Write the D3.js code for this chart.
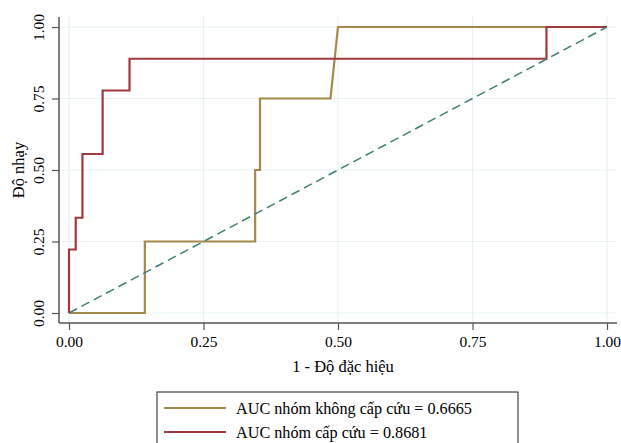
<!DOCTYPE html>
<html>
<head>
    <meta charset="utf-8">
    <title>ROC</title>
    <script src="https://d3js.org/d3.v7.min.js"></script>
    <style>
        body { margin: 0; background: white; }
        text { font-family: "Liberation Serif", "Times New Roman", serif; fill: #000; }
    </style>
</head>
<body>
    <svg width="621" height="443"></svg>
    <script>
        // ROC points (1 - specificity, sensitivity)
        const goldX = [0, 0.141, 0.141, 0.346, 0.346, 0.355, 0.355, 0.486, 0.5, 1]
        const goldY = [0, 0, 0.25, 0.25, 0.5, 0.5, 0.75, 0.75, 1, 1]
        const redX = [0, 0, 0.0125, 0.0125, 0.025, 0.025, 0.0625, 0.0625, 0.1125, 0.1125, 0.8875, 0.8875, 1]
        const redY = [0, 0.222, 0.222, 0.333, 0.333, 0.556, 0.556, 0.778, 0.778, 0.889, 0.889, 1, 1]
        const ticks = [0, 0.25, 0.5, 0.75, 1]
        const legendLabels = ["AUC nhóm không cấp cứu = 0.6665", "AUC nhóm cấp cứu = 0.8681"]
        const colors = ["#a48a4a", "#a2373e"]

        const svg = d3.select("svg")

        const x = d3.scaleLinear([0, 1], [69, 607])
        const y = d3.scaleLinear([0, 1], [313, 27])

        // grid
        svg.append("g").selectAll("line.gx")
            .data(ticks).enter().append("line")
            .attr("x1", d => x(d)).attr("x2", d => x(d))
            .attr("y1", 17).attr("y2", 323)
            .attr("stroke", "#e8f1f4").attr("stroke-width", 1.2)
        svg.append("g").selectAll("line.gy")
            .data(ticks).enter().append("line")
            .attr("x1", 59).attr("x2", 617)
            .attr("y1", d => y(d)).attr("y2", d => y(d))
            .attr("stroke", "#e8f1f4").attr("stroke-width", 1.2)

        // axes
        const xAxis = svg.append("g")
            .attr("transform", "translate(0,323)")
            .call(d3.axisBottom(x).tickValues(ticks).tickFormat(d3.format(".2f")).tickSize(7).tickSizeOuter(0))
        xAxis.select(".domain").attr("d", "M59,0H617").attr("stroke", "#555").attr("stroke-width", 1.5)
        xAxis.selectAll(".tick line").attr("stroke", "#555").attr("stroke-width", 1.2)
        xAxis.selectAll(".tick text").attr("font-size", 15.5).attr("dy", null).attr("y", 23.5)

        const yAxis = svg.append("g")
            .attr("transform", "translate(59,0)")
            .call(d3.axisLeft(y).tickValues(ticks).tickFormat(d3.format(".2f")).tickSize(7).tickSizeOuter(0))
        yAxis.select(".domain").attr("d", "M0,17V323").attr("stroke", "#555").attr("stroke-width", 1.5)
        yAxis.selectAll(".tick line").attr("stroke", "#555").attr("stroke-width", 1.2)
        yAxis.selectAll(".tick text")
            .attr("font-size", 15.5)
            .attr("x", null).attr("dy", null)
            .attr("text-anchor", "middle")
            .attr("transform", "translate(-15,0) rotate(-90)")

        // axis titles
        svg.append("text")
            .attr("x", 343).attr("y", 372)
            .attr("text-anchor", "middle").attr("font-size", 16.5)
            .text("1 - Độ đặc hiệu")
        svg.append("text")
            .attr("transform", "translate(24,170) rotate(-90)")
            .attr("text-anchor", "middle").attr("font-size", 16.5)
            .text("Độ nhạy")

        // curves
        const line = d3.line().x(d => x(d[0])).y(d => y(d[1]))
        const series = [d3.zip(goldX, goldY), d3.zip(redX, redY)]
        svg.append("g").selectAll("path")
            .data(series).enter().append("path")
            .attr("d", line)
            .attr("fill", "none")
            .attr("stroke", (d, i) => colors[i])
            .attr("stroke-width", 2.2)

        // reference line
        svg.append("path")
            .attr("d", line([[0, 0], [1, 1]]))
            .attr("fill", "none")
            .attr("stroke", "#3f8075")
            .attr("stroke-width", 1.5)
            .attr("stroke-dasharray", "9,5")

        // legend
        svg.append("rect")
            .attr("x", 157).attr("y", 392)
            .attr("width", 361).attr("height", 60)
            .attr("fill", "white").attr("stroke", "#444").attr("stroke-width", 1.2)
        const leg = svg.append("g").selectAll("g")
            .data(legendLabels).enter().append("g")
            .attr("transform", (d, i) => "translate(0," + (408 + i * 24) + ")")
        leg.append("line")
            .attr("x1", 164).attr("x2", 226)
            .attr("stroke", (d, i) => colors[i]).attr("stroke-width", 2.2)
        leg.append("text")
            .attr("x", 236).attr("y", 5.5)
            .attr("font-size", 16.2)
            .text(d => d)
    </script>
</body>
</html>
